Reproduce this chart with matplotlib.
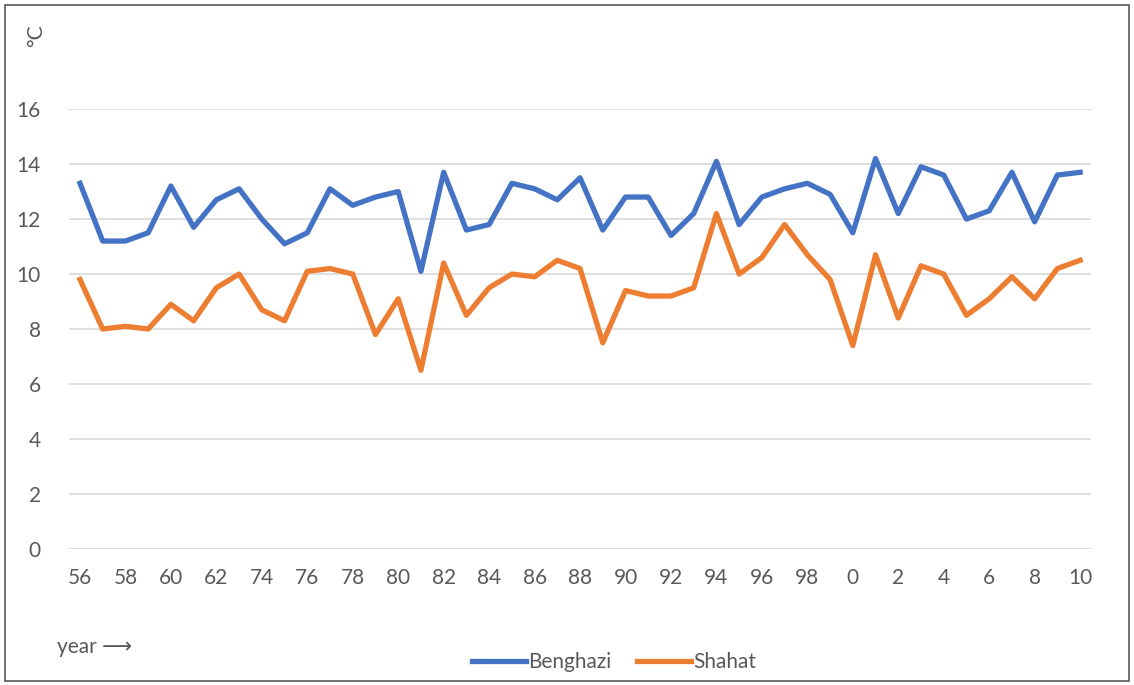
import matplotlib
matplotlib.use("Agg")
import matplotlib.pyplot as plt
from matplotlib.patches import Rectangle

years = ["56", "57", "58", "59", "60", "61", "62", "63",
         "74", "75", "76", "77", "78", "79", "80", "81", "82", "83", "84", "85",
         "86", "87", "88", "89", "90", "91", "92", "93", "94", "95", "96", "97",
         "98", "99", "0", "1", "2", "3", "4", "5", "6", "7", "8", "9", "10"]

benghazi = [13.3, 11.2, 11.2, 11.5, 13.2, 11.7, 12.7, 13.1,
            12.0, 11.1, 11.5, 13.1, 12.5, 12.8, 13.0, 10.1, 13.7, 11.6, 11.8, 13.3,
            13.1, 12.7, 13.5, 11.6, 12.8, 12.8, 11.4, 12.2, 14.1, 11.8, 12.8, 13.1,
            13.3, 12.9, 11.5, 14.2, 12.2, 13.9, 13.6, 12.0, 12.3, 13.7, 11.9, 13.6, 13.7]

shahat = [9.8, 8.0, 8.1, 8.0, 8.9, 8.3, 9.5, 10.0,
          8.7, 8.3, 10.1, 10.2, 10.0, 7.8, 9.1, 6.5, 10.4, 8.5, 9.5, 10.0,
          9.9, 10.5, 10.2, 7.5, 9.4, 9.2, 9.2, 9.5, 12.2, 10.0, 10.6, 11.8,
          10.7, 9.8, 7.4, 10.7, 8.4, 10.3, 10.0, 8.5, 9.1, 9.9, 9.1, 10.2, 10.5]

yticks = [0, 2, 4, 6, 8, 10, 12, 14, 16]

plt.rcParams['font.family'] = ['Lato', 'DejaVu Sans']
text_color = '#595959'

fig = plt.figure(figsize=(11.34, 6.85), dpi=100)
ax = fig.add_axes([0.0605, 0.1985, 0.902, 0.6423])

x = list(range(len(years)))
ax.plot(x, benghazi, color='#4472C4', lw=3.8, label='Benghazi', solid_joinstyle='round')
ax.plot(x, shahat, color='#ED7D31', lw=3.8, label='Shahat', solid_joinstyle='round')

ax.set_xlim(-0.5, len(years) - 0.5)
ax.set_ylim(0, 16)
ax.set_yticks(yticks)
ax.set_yticklabels([str(v) for v in yticks])
ax.set_xticks(x[::2])
ax.set_xticklabels(years[::2])
ax.grid(axis='y', color='#d9d9d9', lw=1.2)
ax.set_axisbelow(True)
for s in ax.spines.values():
    s.set_visible(False)
ax.tick_params(axis='both', length=0, labelsize=15, colors=text_color)
ax.tick_params(axis='y', pad=20)
ax.tick_params(axis='x', pad=14)

fig.text(36 / 1134, 1 - 36 / 685, '°C', rotation=90, ha='center', va='center',
         fontsize=15, color=text_color)
fig.text(57 / 1134, 1 - 647 / 685, 'year ⟶', ha='left', va='center',
         fontsize=15, color=text_color, family=['Lato', 'DejaVu Sans'])

leg = fig.legend(loc='center', bbox_to_anchor=(614 / 1134, 1 - 662 / 685), ncol=2,
                 frameon=False, fontsize=15, handlelength=2.6, handletextpad=0.1,
                 columnspacing=1.2)
for t in leg.get_texts():
    t.set_color(text_color)

fig.patches.append(Rectangle((5 / 1134, 4 / 685), 1124 / 1134, 676 / 685,
                             transform=fig.transFigure, fill=False,
                             edgecolor='#595959', lw=1.2))

fig.savefig('out.png', dpi=100)
